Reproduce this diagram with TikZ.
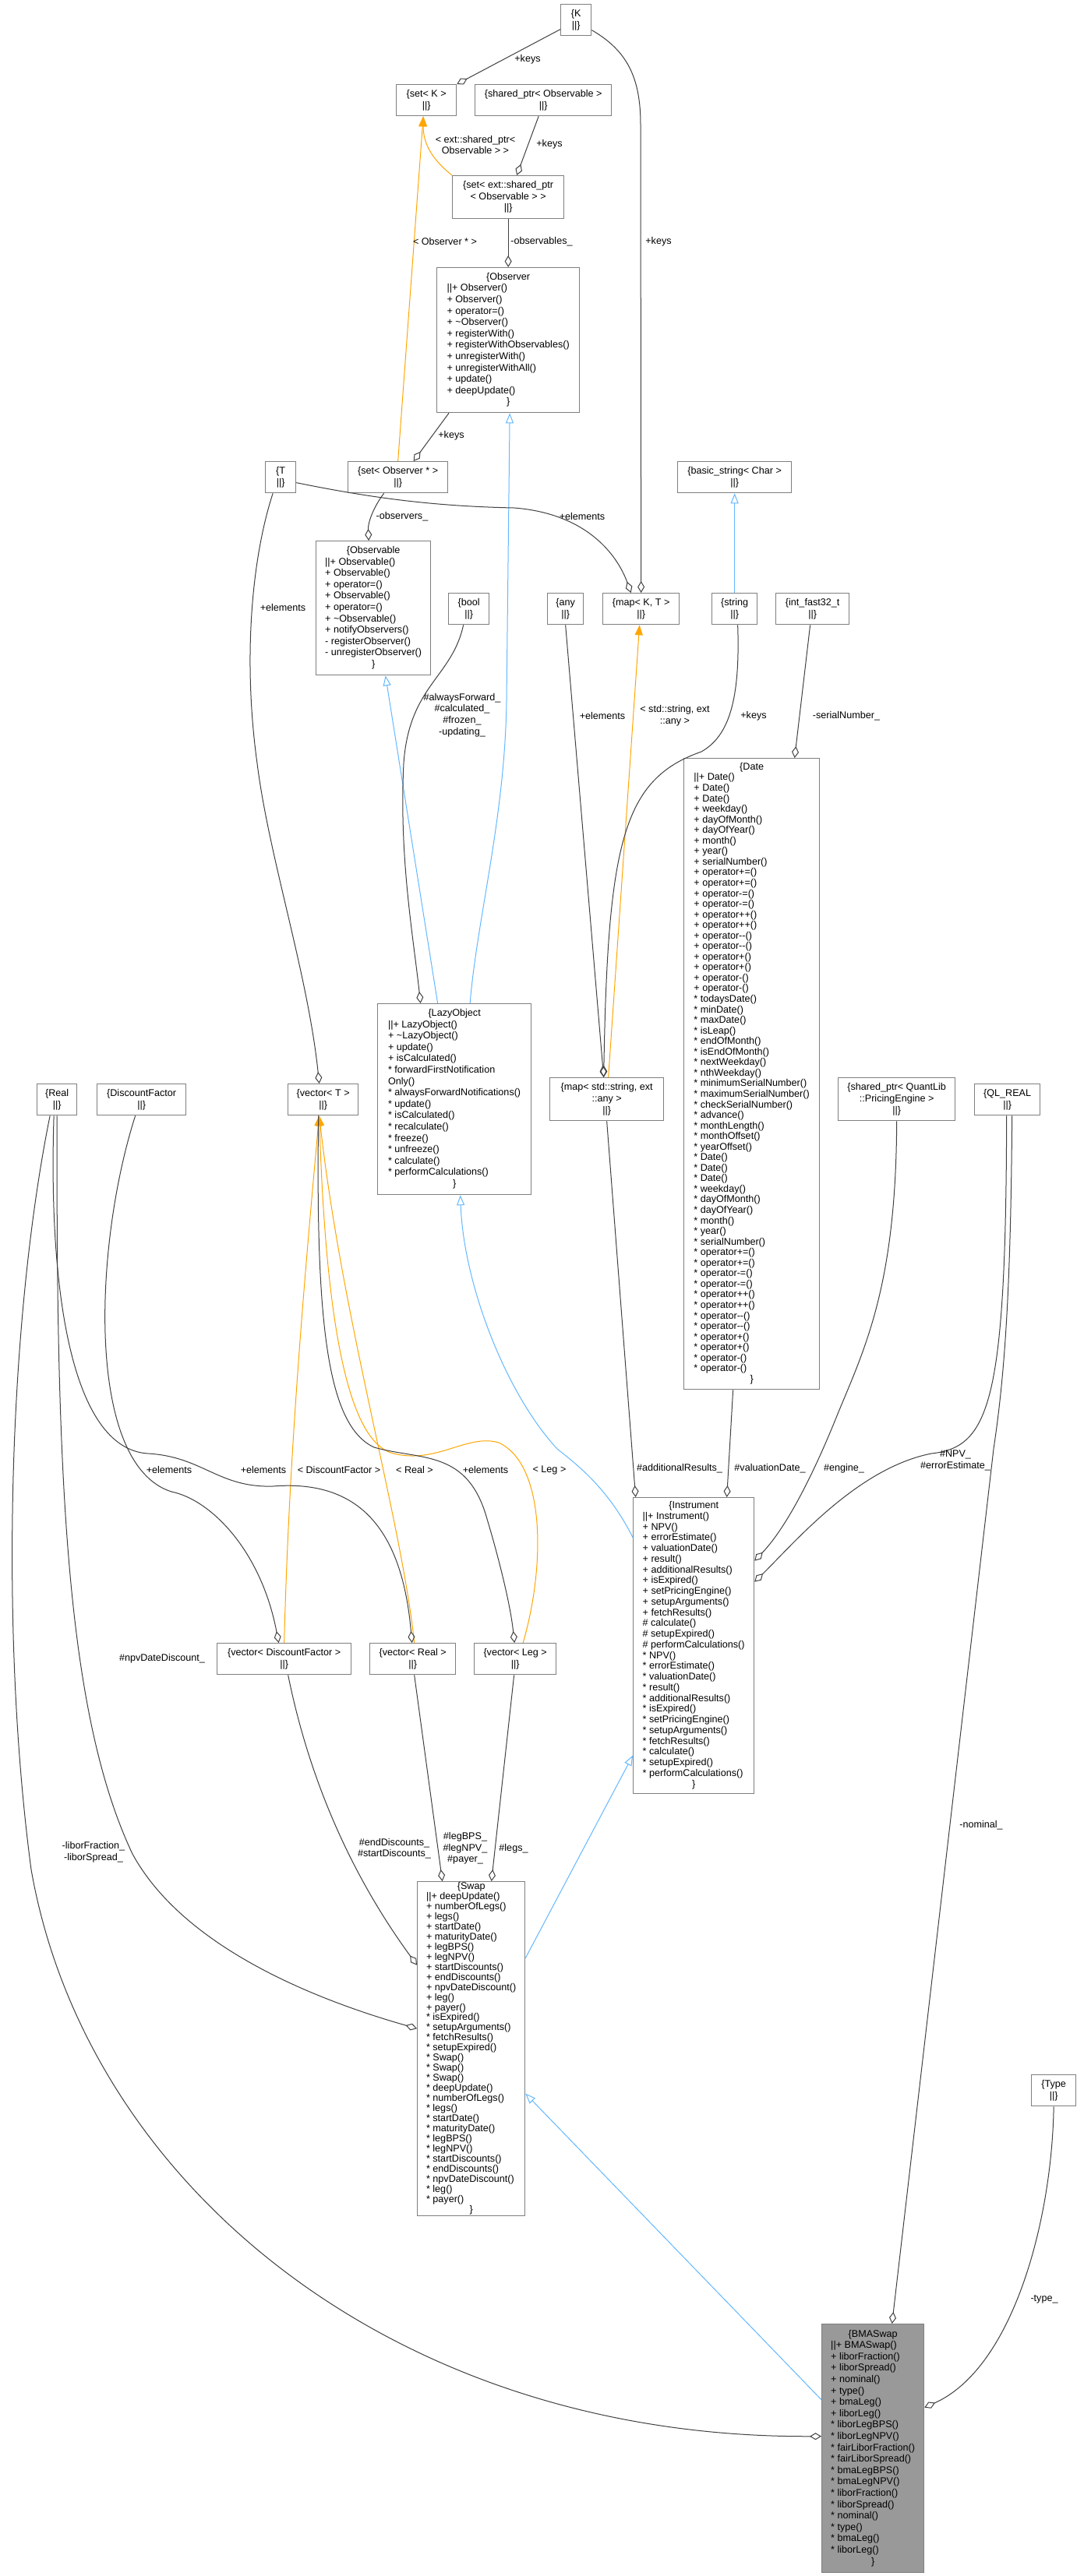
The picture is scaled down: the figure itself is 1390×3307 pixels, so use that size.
\documentclass[tikz,border=0pt]{standalone}
\usepackage{fontspec}
\setmainfont{Liberation Sans}
\usepackage{tikz}
\usetikzlibrary{arrows.meta}

\definecolor{edgegray}{HTML}{404040}
\definecolor{inhblue}{HTML}{63B8FF}
\definecolor{tmplorange}{HTML}{FFA500}
\definecolor{boxgray}{HTML}{999999}
\definecolor{bordergray}{HTML}{7F7F7F}

\newcommand\fsz[1]{\fontsize{12.6pt}{#1pt}\selectfont}
\newcommand\members[1]{\begin{tabular}{@{}l@{}}#1\end{tabular}}
\newcommand\ttl[1]{\multicolumn{1}{@{}c@{}}{#1}}

\begin{document}
\begin{tikzpicture}[
    x=1pt, y=-1pt,
    cls/.style={rectangle, draw=bordergray, line width=1.3pt, fill=white, anchor=north west, inner sep=0pt, font=\fsz{14.6}},
    tmpl/.style={cls, align=center, minimum height=40pt},
    lbl/.style={align=center, inner sep=0pt, font=\fsz{14.6}},
    member/.style={draw=edgegray, line width=1pt, -{Diamond[open, length=15pt, width=9pt]}},
    inherit/.style={draw=inhblue, line width=1pt, -{Triangle[open, length=13pt, width=10pt]}},
    instance/.style={draw=tmplorange, line width=1pt, -{Triangle[length=13pt, width=10pt]}}
]
\useasboundingbox (0,0) rectangle (1390,3307);
\fill[white] (0,0) rectangle (1390,3307);

% Nodes
\node[tmpl, minimum width=39pt] (K) at (719,5) {\{K\\||\}};
\node[tmpl, minimum width=77pt] (setK) at (508,108) {\{set< K >\\||\}};
\node[tmpl, minimum width=175pt] (shptrObs) at (609,108) {\{shared\_ptr< Observable >\\||\}};
\node[tmpl, minimum width=143pt, minimum height=55pt] (setExt) at (580,225) {\{set< ext::shared\_ptr\\< Observable > >\\||\}};
\node[cls, minimum width=183pt, minimum height=186pt] (observer) at (560,343) {\members{\ttl{\{Observer}\\
  ||+ Observer()\\ + Observer()\\ + operator=()\\ + \textasciitilde Observer()\\ + registerWith()\\
  + registerWithObservables()\\ + unregisterWith()\\ + unregisterWithAll()\\ + update()\\
  + deepUpdate()\\ \ttl{\}}}};
\node[tmpl, minimum width=39pt] (T) at (340,592) {\{T\\||\}};
\node[tmpl, minimum width=128pt] (setObsv) at (446,592) {\{set< Observer * >\\||\}};
\node[tmpl, minimum width=146pt] (basicStr) at (869,592) {\{basic\_string< Char >\\||\}};
\node[cls, minimum width=147pt, minimum height=172pt] (observable) at (405,694) {\members{\ttl{\{Observable}\\
  ||+ Observable()\\ + Observable()\\ + operator=()\\ + Observable()\\ + operator=()\\
  + \textasciitilde Observable()\\ + notifyObservers()\\ - registerObserver()\\ - unregisterObserver()\\
  \ttl{\}}}};
\node[tmpl, minimum width=52pt] (bool) at (575,761) {\{bool\\||\}};
\node[tmpl, minimum width=46pt] (any) at (702,761) {\{any\\||\}};
\node[tmpl, minimum width=98pt] (mapKT) at (773,761) {\{map< K, T >\\||\}};
\node[tmpl, minimum width=58pt] (string) at (913,761) {\{string\\||\}};
\node[tmpl, minimum width=94pt] (intFast) at (995,761) {\{int\_fast32\_t\\||\}};
\node[cls, minimum width=174pt, minimum height=810pt, font=\fsz{13.55}] (date) at (877,973) {\members{\ttl{\{Date}\\
  ||+ Date()\\ + Date()\\ + Date()\\ + weekday()\\ + dayOfMonth()\\ + dayOfYear()\\ + month()\\ + year()\\
  + serialNumber()\\ + operator+=()\\ + operator+=()\\ + operator-=()\\ + operator-=()\\ + operator++()\\
  + operator++()\\ + operator-{}-()\\ + operator-{}-()\\ + operator+()\\ + operator+()\\ + operator-()\\
  + operator-()\\ {*} todaysDate()\\ {*} minDate()\\ {*} maxDate()\\ {*} isLeap()\\ {*} endOfMonth()\\
  {*} isEndOfMonth()\\ {*} nextWeekday()\\ {*} nthWeekday()\\ {*} minimumSerialNumber()\\
  {*} maximumSerialNumber()\\ {*} checkSerialNumber()\\ {*} advance()\\ {*} monthLength()\\
  {*} monthOffset()\\ {*} yearOffset()\\ {*} Date()\\ {*} Date()\\ {*} Date()\\ {*} weekday()\\
  {*} dayOfMonth()\\ {*} dayOfYear()\\ {*} month()\\ {*} year()\\ {*} serialNumber()\\
  {*} operator+=()\\ {*} operator+=()\\ {*} operator-=()\\ {*} operator-=()\\ {*} operator++()\\
  {*} operator++()\\ {*} operator-{}-()\\ {*} operator-{}-()\\ {*} operator+()\\ {*} operator+()\\
  {*} operator-()\\ {*} operator-()\\ \ttl{\}}}};
\node[cls, minimum width=197pt, minimum height=245pt] (lazy) at (484,1288) {\members{\ttl{\{LazyObject}\\
  ||+ LazyObject()\\ + \textasciitilde LazyObject()\\ + update()\\ + isCalculated()\\
  {*} forwardFirstNotification\\ Only()\\ {*} alwaysForwardNotifications()\\ {*} update()\\
  {*} isCalculated()\\ {*} recalculate()\\ {*} freeze()\\ {*} unfreeze()\\ {*} calculate()\\
  {*} performCalculations()\\ \ttl{\}}}};
\node[tmpl, minimum width=90pt] (vecT) at (369,1391) {\{vector< T >\\||\}};
\node[tmpl, minimum width=51pt] (real) at (47,1391) {\{Real\\||\}};
\node[tmpl, minimum width=114pt] (discF) at (124,1391) {\{DiscountFactor\\||\}};
\node[tmpl, minimum width=146pt, minimum height=55pt] (mapSA) at (705,1383) {\{map< std::string, ext\\::any >\\||\}};
\node[tmpl, minimum width=150pt, minimum height=55pt] (shptrEng) at (1075,1383) {\{shared\_ptr< QuantLib\\::PricingEngine >\\||\}};
\node[tmpl, minimum width=84pt] (qlReal) at (1250,1391) {\{QL\_REAL\\||\}};
\node[tmpl, minimum width=172pt] (vecDF) at (278,2109) {\{vector< DiscountFactor >\\||\}};
\node[tmpl, minimum width=110pt] (vecReal) at (474,2109) {\{vector< Real >\\||\}};
\node[tmpl, minimum width=105pt] (vecLeg) at (608,2109) {\{vector< Leg >\\||\}};
\node[cls, minimum width=155pt, minimum height=380pt, font=\fsz{13.75}] (instr) at (812,1922) {\members{\ttl{\{Instrument}\\
  ||+ Instrument()\\ + NPV()\\ + errorEstimate()\\ + valuationDate()\\ + result()\\
  + additionalResults()\\ + isExpired()\\ + setPricingEngine()\\ + setupArguments()\\
  + fetchResults()\\ \# calculate()\\ \# setupExpired()\\ \# performCalculations()\\ {*} NPV()\\
  {*} errorEstimate()\\ {*} valuationDate()\\ {*} result()\\ {*} additionalResults()\\ {*} isExpired()\\
  {*} setPricingEngine()\\ {*} setupArguments()\\ {*} fetchResults()\\ {*} calculate()\\
  {*} setupExpired()\\ {*} performCalculations()\\ \ttl{\}}}};
\node[cls, minimum width=138pt, minimum height=429pt, font=\fsz{12.75}] (swap) at (535,2415) {\members{\ttl{\{Swap}\\
  ||+ deepUpdate()\\ + numberOfLegs()\\ + legs()\\ + startDate()\\ + maturityDate()\\ + legBPS()\\
  + legNPV()\\ + startDiscounts()\\ + endDiscounts()\\ + npvDateDiscount()\\ + leg()\\ + payer()\\
  {*} isExpired()\\ {*} setupArguments()\\ {*} fetchResults()\\ {*} setupExpired()\\ {*} Swap()\\
  {*} Swap()\\ {*} Swap()\\ {*} deepUpdate()\\ {*} numberOfLegs()\\ {*} legs()\\ {*} startDate()\\
  {*} maturityDate()\\ {*} legBPS()\\ {*} legNPV()\\ {*} startDiscounts()\\ {*} endDiscounts()\\
  {*} npvDateDiscount()\\ {*} leg()\\ {*} payer()\\ \ttl{\}}}};
\node[tmpl, minimum width=57pt] (type) at (1323,2663) {\{Type\\||\}};
\node[cls, fill=boxgray, minimum width=131pt, minimum height=319pt] (bma) at (1054,2983) {\members{\ttl{\{BMASwap}\\
  ||+ BMASwap()\\ + liborFraction()\\ + liborSpread()\\ + nominal()\\ + type()\\ + bmaLeg()\\
  + liborLeg()\\ {*} liborLegBPS()\\ {*} liborLegNPV()\\ {*} fairLiborFraction()\\
  {*} fairLiborSpread()\\ {*} bmaLegBPS()\\ {*} bmaLegNPV()\\ {*} liborFraction()\\
  {*} liborSpread()\\ {*} nominal()\\ {*} type()\\ {*} bmaLeg()\\ {*} liborLeg()\\ \ttl{\}}}};

% Inheritance
\draw[inherit] (string.north) -- (basicStr.south);
\draw[inherit] ([xshift=20pt]lazy.north) .. controls (612,1180) and (648,1050) .. (650,900) -- ([xshift=2pt]observer.south);
\draw[inherit] ([xshift=-21.5pt]lazy.north) -- ([xshift=15.5pt]observable.south);
\draw[inherit] ([yshift=139pt]instr.west) .. controls (780,1910) and (740,1880) .. (715,1860)
  .. controls (650,1790) and (595,1650) .. ([xshift=7.5pt]lazy.south);
\draw[inherit] ([yshift=116.5pt]swap.east) -- ([yshift=-141pt]instr.west);
\draw[inherit] ([yshift=62.5pt]bma.west) -- ([yshift=-57.5pt]swap.east);

% Template instances
\draw[instance] (setExt.north west) .. controls (555,205) and (543,185) .. ([xshift=-4pt]setK.south);
\draw[instance] (setObsv.north) -- ([xshift=-4pt]setK.south);
\draw[instance] ([xshift=2pt]mapSA.north) -- ([xshift=-2pt]mapKT.south);
\draw[instance] (vecDF.north) .. controls (370,1900) and (385,1700) .. ([xshift=-5pt]vecT.south);
\draw[instance] ([xshift=2pt]vecReal.north) .. controls (515,1950) and (440,1700) .. ([xshift=-5pt]vecT.south);
\draw[instance] ([xshift=10pt]vecLeg.north) .. controls (700,2010) and (700,1880) .. (640,1852)
  .. controls (600,1840) and (560,1880) .. (505,1866) .. controls (460,1855) and (420,1760) .. ([xshift=-5pt]vecT.south);

% Members
\draw[member] ([yshift=-12pt]K.west) -- (setK.north east);
\draw[member] ([yshift=-13pt]K.east) .. controls (805,65) and (822,100) .. (822,160) -- (mapKT.north);
\draw[member] ([xshift=-6pt]shptrObs.south) -- ([xshift=11pt]setExt.north);
\draw[member] (setExt.south) -- (observer.north);
\draw[member] ([xshift=16pt]observer.south west) -- ([xshift=20pt]setObsv.north);
\draw[member] ([yshift=-7pt]T.east) .. controls (480,640) and (560,650) .. (660,652)
  .. controls (760,660) and (795,720) .. ([xshift=-13pt]mapKT.north);
\draw[member] ([xshift=-18pt]setObsv.south) .. controls (480,650) and (472,670) .. ([xshift=-6pt]observable.north);
\draw[member] ([xshift=-10pt]T.south) .. controls (322,720) and (312,850) .. (330,980)
  .. controls (345,1100) and (395,1250) .. ([xshift=-5pt]vecT.north);
\draw[member] ([xshift=-7pt]bool.south) .. controls (580,870) and (525,880) .. (518,980)
  .. controls (512,1100) and (530,1200) .. ([xshift=-43.5pt]lazy.north);
\draw[member] (any.south) -- ([xshift=-4pt]mapSA.north);
\draw[member] ([xshift=4pt]string.south) .. controls (950,900) and (935,945) .. (900,965)
  .. controls (800,1000) and (780,1080) .. ([xshift=-4pt]mapSA.north);
\draw[member] ([xshift=-3pt]intFast.south) -- ([xshift=55pt]date.north);
\draw[member] ([xshift=-6pt]vecT.south) .. controls (405,1700) and (420,1830) .. (480,1858)
  .. controls (540,1875) and (600,1860) .. (625,1950) .. controls (640,2000) and (655,2060) .. ([xshift=-1pt]vecLeg.north);
\draw[member] ([xshift=-4pt]real.south) .. controls (62,1650) and (90,1860) .. (190,1866)
  .. controls (260,1870) and (280,1910) .. (350,1908) .. controls (450,1900) and (515,1950) .. ([xshift=-1pt]vecReal.north);
\draw[member] ([xshift=-8pt]discF.south) .. controls (120,1600) and (110,1880) .. (220,1915)
  .. controls (270,1925) and (335,1990) .. ([xshift=-7pt]vecDF.north);
\draw[member] (real.south) .. controls (72,1900) and (85,2200) .. (170,2380)
  .. controls (230,2490) and (380,2560) .. ([yshift=26pt]swap.west);
\draw[member] ([xshift=-9pt]real.south) .. controls (10,1700) and (0,2100) .. (40,2400)
  .. controls (110,2800) and (500,3130) .. ([yshift=15.5pt]bma.west);
\draw[member] ([xshift=5pt]vecDF.south) .. controls (400,2300) and (460,2420) .. ([yshift=107.5pt]swap.west);
\draw[member] ([xshift=2pt]vecReal.south) -- ([xshift=-37pt]swap.north);
\draw[member] ([xshift=-1.5pt]vecLeg.south) -- ([xshift=26pt]swap.north);
\draw[member] (mapSA.south) -- ([xshift=-74.5pt]instr.north);
\draw[member] ([xshift=-24pt]date.south) -- ([xshift=42.5pt]instr.north);
\draw[member] (shptrEng.south) .. controls (1150,1650) and (1110,1730) .. (1075,1815)
  .. controls (1045,1890) and (1010,1960) .. ([yshift=109pt]instr.east);
\draw[member] ([xshift=-1pt]qlReal.south) .. controls (1291,1800) and (1270,1858) .. (1195,1866)
  .. controls (1100,1885) and (1020,1980) .. ([yshift=82pt]instr.east);
\draw[member] ([xshift=6pt]qlReal.south) .. controls (1297,1650) and (1290,1760) .. (1275,1860) -- ([xshift=24.5pt]bma.north);
\draw[member] (type.south) .. controls (1350,2850) and (1300,3040) .. ([yshift=52.5pt]bma.east);

% Labels
\node[lbl] (lkK) at (677,76) {+keys};
\node[lbl] (lsp) at (610,186) {< ext::shared\_ptr<\\Observable > >};
\node[lbl] (lkSp) at (705,185) {+keys};
\node[lbl] (lobsv) at (571,310) {< Observer * >};
\node[lbl] (lobservables) at (695,310) {-observables\_};
\node[lbl] (lkMap) at (845,310) {+keys};
\node[lbl] (lkObs) at (579,559) {+keys};
\node[lbl] (lobservers) at (516,663) {-observers\_};
\node[lbl] (leT) at (747,663) {+elements};
\node[lbl] (leVT) at (363,780) {+elements};
\node[lbl] (lflags) at (593,918) {\#alwaysForward\_\\\#calculated\_\\\#frozen\_\\-updating\_};
\node[lbl] (leAny) at (773,919) {+elements};
\node[lbl] (lstrany) at (866,919) {< std::string, ext\\::any >};
\node[lbl] (lkStr) at (967,919) {+keys};
\node[lbl] (lserial) at (1086,919) {-serialNumber\_};
\node[lbl] (leReal) at (217,1887) {+elements};
\node[lbl] (leDF) at (338,1887) {+elements};
\node[lbl] (ltDF) at (435,1887) {< DiscountFactor >};
\node[lbl] (ltReal) at (532,1887) {< Real >};
\node[lbl] (leLeg) at (623,1887) {+elements};
\node[lbl] (ltLeg) at (705,1887) {< Leg >};
\node[lbl] (laddres) at (872,1885) {\#additionalResults\_};
\node[lbl] (lvaldate) at (988,1885) {\#valuationDate\_};
\node[lbl] (lengine) at (1083,1885) {\#engine\_};
\node[lbl] (lnpv) at (1226,1875) {\#NPV\_\\\#errorEstimate\_};
\node[lbl] (lnpvdisc) at (208,2129) {\#npvDateDiscount\_};
\node[lbl] (ldisc) at (506,2373) {\#endDiscounts\_\\\#startDiscounts\_};
\node[lbl] (llegbps) at (597,2373) {\#legBPS\_\\\#legNPV\_\\\#payer\_};
\node[lbl] (llegs) at (659,2373) {\#legs\_};
\node[lbl] (lnominal) at (1259,2343) {-nominal\_};
\node[lbl] (llibor) at (120,2378) {-liborFraction\_\\-liborSpread\_};
\node[lbl] (ltype) at (1340,2952) {-type\_};

\end{tikzpicture}
\end{document}
